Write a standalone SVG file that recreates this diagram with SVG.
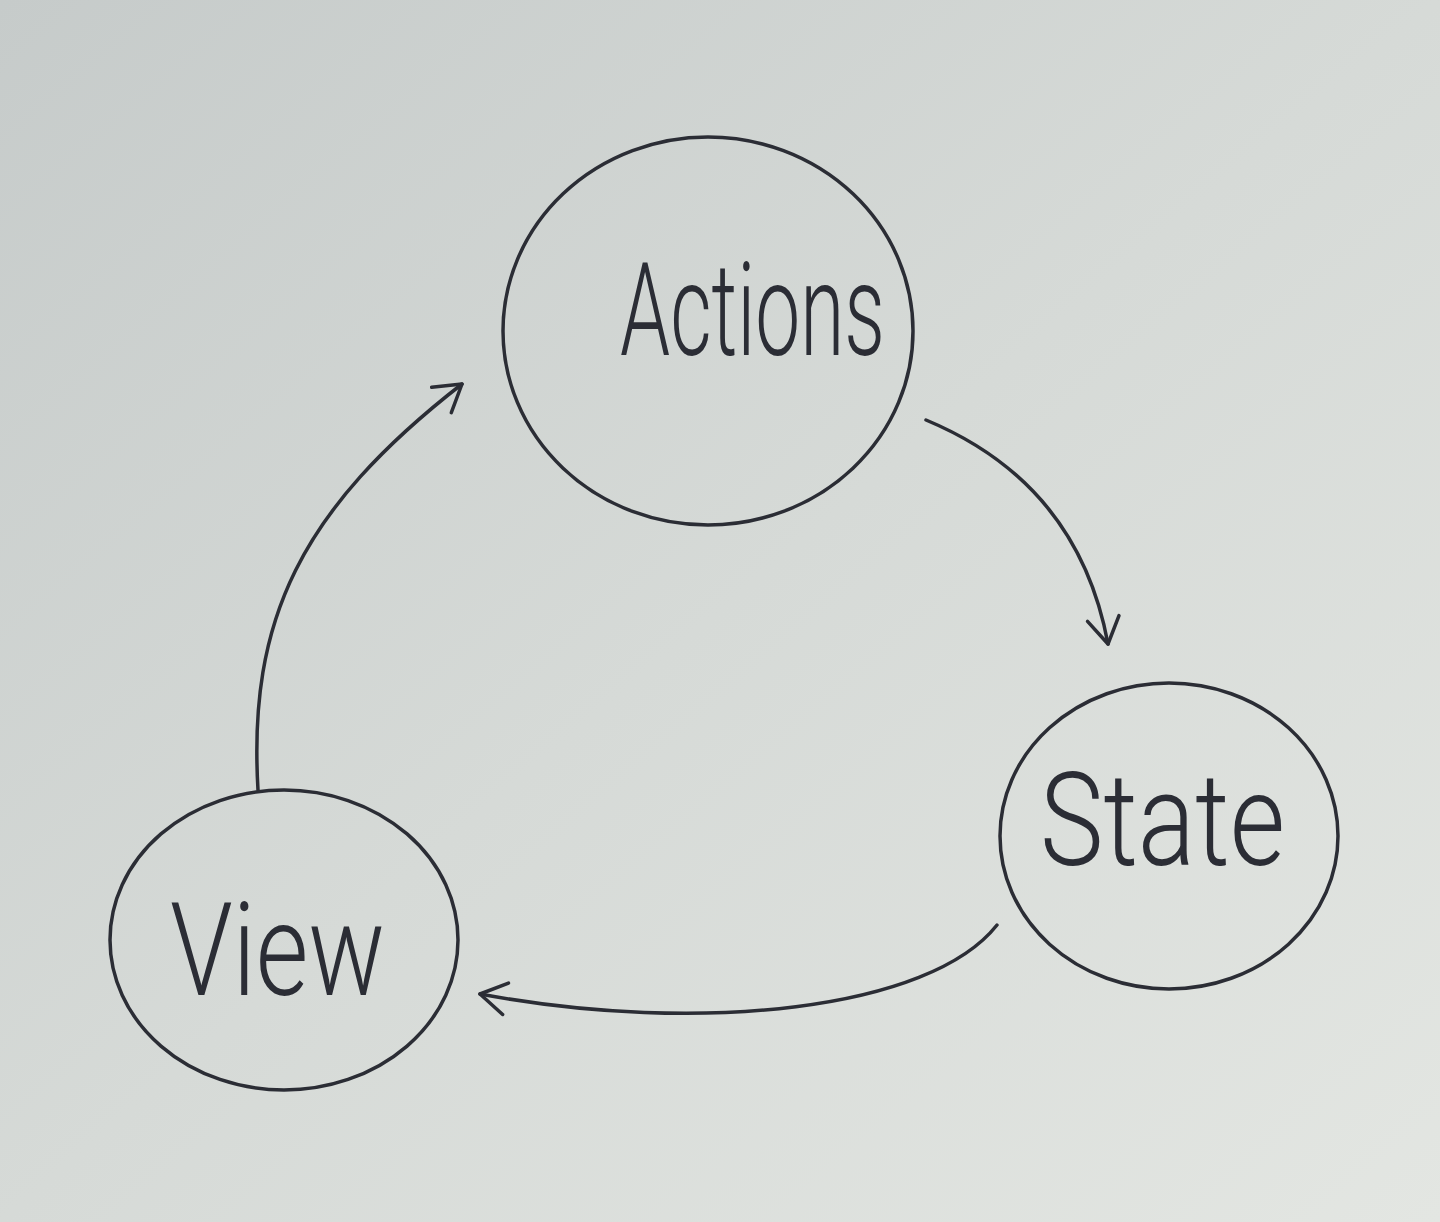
<svg xmlns="http://www.w3.org/2000/svg" width="1440" height="1222" viewBox="0 0 1440 1222">
<defs>
<linearGradient id="paper" x1="0" y1="0" x2="1" y2="1">
<stop offset="0" stop-color="#c6cbca"/>
<stop offset="0.5" stop-color="#d6dad7"/>
<stop offset="1" stop-color="#e3e6e2"/>
</linearGradient>
<marker id="arrow" viewBox="0 0 40 40" refX="30" refY="20" markerWidth="40" markerHeight="40" markerUnits="userSpaceOnUse" orient="auto">
<path d="M4,4 L30,20 L4,36" fill="none" stroke="#2b2d35" stroke-width="3.5" stroke-linecap="round" stroke-linejoin="round"/>
</marker>
<style>
.node{fill:none;stroke:#2b2d35;stroke-width:3.5}
.label{font-family:"Roboto","Liberation Sans",sans-serif;font-weight:300;fill:#2b2d35;font-size:130px}
.edge{fill:none;stroke:#2b2d35;stroke-width:3.5;stroke-linecap:round;marker-end:url(#arrow)}
</style>
</defs>
<rect x="0" y="0" width="1440" height="1222" fill="url(#paper)"/>
<g id="connectors">
<path class="edge" d="M258,790 C248,620 300,510 462,384"/>
<path class="edge" d="M926,420 C1010,455 1085,520 1108,644"/>
<path class="edge" d="M997,925 C930,1010 700,1035 480,994"/>
</g>
<g id="node-actions">
<ellipse class="node" cx="708" cy="331" rx="205" ry="194"/>
<text class="label" x="620" y="355" textLength="265" lengthAdjust="spacingAndGlyphs">Actions</text>
</g>
<g id="node-state">
<ellipse class="node" cx="1169" cy="836" rx="169" ry="153"/>
<text class="label" x="1040" y="865" font-size="150" textLength="245" lengthAdjust="spacingAndGlyphs">State</text>
</g>
<g id="node-view">
<ellipse class="node" cx="284" cy="940" rx="174" ry="150"/>
<text class="label" x="170" y="995" font-size="140" textLength="215" lengthAdjust="spacingAndGlyphs">View</text>
</g>
</svg>
